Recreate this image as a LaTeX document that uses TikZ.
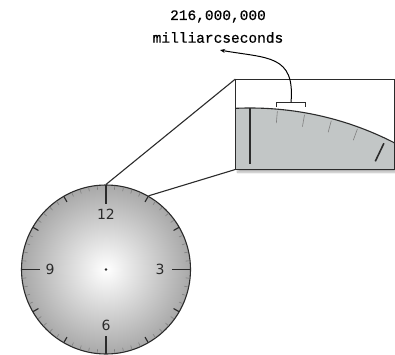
\documentclass[tikz,border=0pt]{standalone}
\usepackage{fontspec}
\newfontfamily\labelfont[FakeBold=0.5]{Liberation Mono}
\newfontfamily\dialfont{DejaVu Sans}
\usetikzlibrary{calc,arrows.meta,shadows.blur}
\definecolor{dialedge}{HTML}{A8A8A8}
\definecolor{zoomgray}{RGB}{194,198,198}
\definecolor{inkgray}{HTML}{2B2B2B}

\begin{document}
\begin{tikzpicture}[x=1pt, y=1pt,
  outline/.style={draw=inkgray, line width=1.1pt},
  minortick/.style={draw=gray, line width=0.6pt},
  hourtick/.style={draw=inkgray, line width=1.1pt},
  maintick/.style={draw=inkgray, line width=1.6pt},
  numeral/.style={font=\dialfont\fontsize{14}{14}\selectfont, text=inkgray, inner sep=0pt},
  caption/.style={font=\labelfont\fontsize{14.5}{16}\selectfont, inner sep=0pt, anchor=base}]
  \useasboundingbox (0,0) rectangle (395,354);

  \node (clock) [circle, minimum size=169pt, inner sep=0pt, outline,
                 inner color=white, outer color=dialedge] at (106,84.5) {};
  \foreach \a in {0,6,...,354}
    \draw[minortick, shift={(clock.center)}] (\a:84) -- (\a:80);
  \foreach \a in {30,60,120,150,210,240,300,330}
    \draw[hourtick, shift={(clock.center)}] (\a:84.5) -- (\a:78);
  \foreach \a in {0,90,180,270}
    \draw[maintick, shift={(clock.center)}] (\a:84.5) -- (\a:66);
  \fill[inkgray] (clock.center) circle (1.3);
  \node (twelve) [numeral] at ($(clock.center)+(90:55)$)  {12};
  \node (three)  [numeral] at ($(clock.center)+(0:54)$)   {3};
  \node (six)    [numeral] at ($(clock.center)+(270:56)$) {6};
  \node (nine)   [numeral] at ($(clock.center)+(180:56)$) {9};

  \node (zoombox) [minimum width=158.5pt, minimum height=90pt, inner sep=0pt, fill=white,
                   blur shadow={shadow xshift=2pt, shadow yshift=-3pt, shadow blur steps=8, shadow opacity=30}]
                  at (314.75,229.7) {};
  \begin{scope}
    \clip (zoombox.south west) rectangle (zoombox.north east);
    \fill[zoomgray] (250,-70) circle (316);
    \draw[outline] (250,-70) circle (316);
    \foreach \a in {5,10,15,20}
      \draw[minortick, shift={(250,-70)}] (90-\a:314) -- (90-\a:302);
    \draw[maintick, shift={(250,-70)}] (90:316) -- (90:260);
    \draw[maintick, shift={(250,-70)}] (64.5:311) -- (64.5:291);
  \end{scope}
  \draw[outline] (zoombox.south west) rectangle (zoombox.north east);

  \draw[outline] (clock.north) -- (zoombox.north west);
  \draw[outline] (clock.60) -- (zoombox.south west);

  \node (count) [caption] at (218,334) {216,000,000};
  \node (unit)  [caption] at (218,311.3) {milliarcseconds};

  \coordinate (brace) at (291,251.7);
  \draw[draw=inkgray, line width=0.8pt] (276.7,247.3) |- (brace) -| (305,247.3);
  \draw[-{Stealth[length=5pt,width=4pt]}, line width=1pt, looseness=1.4]
    (brace) to[out=85, in=-10] ([xshift=2pt, yshift=-7pt]unit.south);
\end{tikzpicture}
\end{document}
